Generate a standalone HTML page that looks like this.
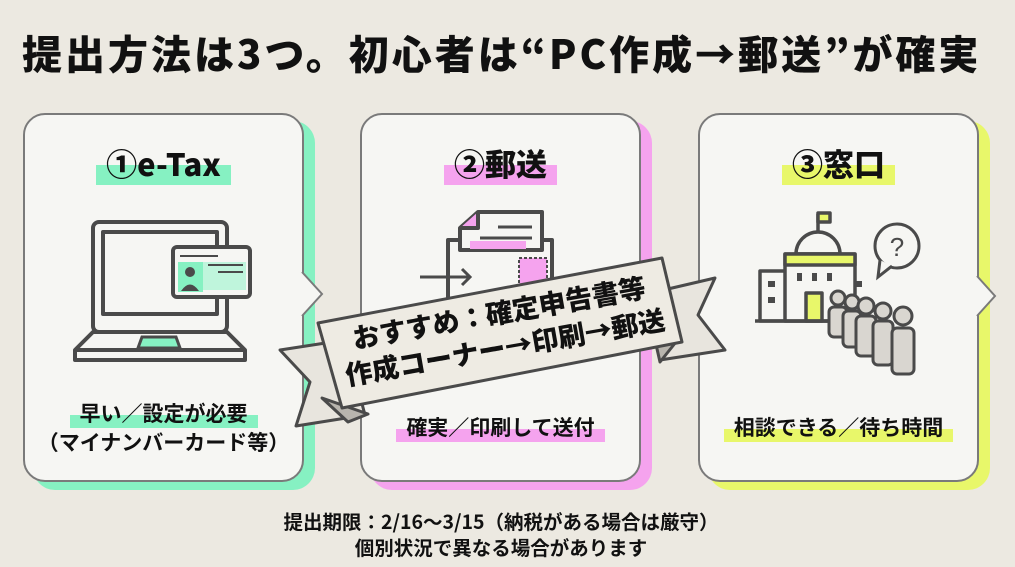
<!DOCTYPE html>
<html><head><meta charset="utf-8"><style>
*{margin:0;padding:0;box-sizing:border-box}
body{width:1015px;height:567px;background:#ece9e1;font-family:"Noto Sans CJK JP",sans-serif;position:relative;overflow:hidden;color:#111}
.title{position:absolute;left:22px;top:25px;font-size:40px;font-weight:900;white-space:nowrap;letter-spacing:3px;line-height:54px}
.sh{position:absolute;border-radius:22px}
.card{position:absolute;background:#f6f6f3;border:2px solid #7a7a7a;border-radius:22px}
.hd{position:absolute;left:0;right:0;text-align:center;font-size:31px;font-weight:900;line-height:40px}
.hd span,.ft span{padding:0 10px;background-size:100% 45%;background-repeat:no-repeat;background-position:0 100%}
.ft{position:absolute;left:0;right:0;text-align:center;font-size:21px;font-weight:700;line-height:29px}
.g{background-image:linear-gradient(#86f1c2,#86f1c2)}
.p{background-image:linear-gradient(#f5a3ee,#f5a3ee)}
.y{background-image:linear-gradient(#e8f76a,#e8f76a)}
.bot{position:absolute;left:0;width:1002px;text-align:center;font-size:19.5px;font-weight:700;line-height:26px;top:508px}
svg{position:absolute}
</style></head><body>
<div class="title">提出方法は3つ。初心者は“PC作成→郵送”が確実</div>

<div class="sh" style="left:33px;top:121px;width:282px;height:369px;background:#86f1c2"></div>
<div class="sh" style="left:370px;top:121px;width:282px;height:369px;background:#f5a3ee"></div>
<div class="sh" style="left:708px;top:121px;width:282px;height:369px;background:#e8f76a"></div>

<div class="card" style="left:23px;top:113px;width:281px;height:369px">
 <div class="hd" style="top:28px"><span class="g">①e-Tax</span></div>
 <div class="ft" style="top:284px"><span class="g">早い／設定が必要</span><br>（マイナンバーカード等）</div>
</div>
<div class="card" style="left:360px;top:113px;width:281px;height:369px">
 <div class="hd" style="top:28px"><span class="p">②郵送</span></div>
 <div class="ft" style="top:298px"><span class="p">確実／印刷して送付</span></div>
</div>
<div class="card" style="left:698px;top:113px;width:281px;height:369px">
 <div class="hd" style="top:28px"><span class="y">③窓口</span></div>
 <div class="ft" style="top:298px"><span class="y">相談できる／待ち時間</span></div>
</div>

<svg width="1015" height="567" viewBox="0 0 1015 567">
 <g fill="#f6f6f3" stroke="#7a7a7a" stroke-width="2">
  <path d="M302 272 L322 294 L302 316"/>
  <path d="M977 276 L995 296 L977 316"/>
 </g>
 <g fill="none" stroke="#4a4a4a" stroke-width="4" stroke-linejoin="round">
  <rect x="93" y="222" width="134" height="110" rx="6"/>
  <rect x="103" y="232" width="114" height="82"/>
  <path d="M93 332 L75 350 L75 360 L245 360 L245 350 L227 332 Z" fill="#f6f6f3"/>
  <line x1="75" y1="350" x2="245" y2="350"/>
 </g>
 <path d="M142 337 L176 337 L180 348 L138 348 Z" fill="#86f1c2" stroke="#4a4a4a" stroke-width="3"/>
 <rect x="173" y="247" width="77" height="50" rx="4" fill="#f6f6f3" stroke="#4a4a4a" stroke-width="4"/>
 <rect x="180" y="262" width="66" height="28" fill="#bff5dc"/>
 <rect x="178" y="262" width="25" height="30" fill="#86f1c2"/>
 <circle cx="190" cy="272" r="5" fill="#4a4a4a"/><path d="M181 291 Q190 278 199 291 Z" fill="#4a4a4a"/>
 <g stroke="#4a4a4a" stroke-width="2"><line x1="180" y1="256" x2="218" y2="256"/><line x1="208" y1="265" x2="243" y2="265"/><line x1="218" y1="272" x2="243" y2="272"/></g>
 <g stroke="#4a4a4a" stroke-width="4" stroke-linejoin="round">
  <rect x="448" y="240" width="104" height="120" fill="#f6f6f3"/>
  <path d="M478 212 L542 212 L542 250 L460 250 L460 228 Z" fill="#f6f6f3"/>
  <path d="M460 228 L478 228 L478 212" fill="#f5a3ee"/>
  <rect x="519" y="258" width="28" height="32" fill="#f5a3ee" stroke-dasharray="3 2" stroke-width="2"/>
 </g>
 <rect x="470" y="241" width="56" height="8" fill="#f5a3ee"/>
 <g stroke="#4a4a4a" stroke-width="3" fill="none"><line x1="498" y1="227" x2="532" y2="227"/><line x1="480" y1="238" x2="532" y2="238"/><path d="M420 277 L470 277 M462 269 L470 277 L462 285"/></g>
 <g stroke="#4a4a4a" stroke-width="3.5" fill="#f6f6f3" stroke-linejoin="round">
  <line x1="818" y1="240" x2="818" y2="214"/>
  <rect x="818" y="213" width="12" height="9" fill="#e8f76a"/>
  <path d="M796 254 A22 22 0 0 1 840 254 Z"/>
  <rect x="760" y="271" width="90" height="50"/>
  <rect x="785" y="254" width="70" height="67"/>
  <rect x="785" y="254" width="70" height="11" fill="#e8f76a"/>
  <rect x="806" y="293" width="16" height="28" fill="#e8f76a"/>
  <line x1="755" y1="321" x2="835" y2="321"/>
 </g>
 <g fill="#4a4a4a"><rect x="797" y="273" width="5" height="8"/><rect x="812" y="273" width="5" height="8"/><rect x="827" y="273" width="5" height="8"/><rect x="768" y="281" width="7" height="6"/><rect x="768" y="297" width="7" height="6"/><rect x="855" y="281" width="7" height="6"/></g>
 <g stroke="#4a4a4a" stroke-width="3" fill="#f6f6f3"><circle cx="897" cy="246" r="22"/><path d="M880 260 L878 277 L892 266"/></g>
 <text x="897" y="256" font-size="26" text-anchor="middle" fill="#4a4a4a" font-family="Liberation Sans">?</text>
 <g stroke="#4a4a4a" stroke-width="3" fill="#d9d6d0">
  <g><circle cx="838" cy="298" r="7"/><rect x="829" y="307" width="18" height="30" rx="5"/></g>
  <g><circle cx="852" cy="302" r="7"/><rect x="843" y="311" width="18" height="36" rx="5"/></g>
  <g><circle cx="866" cy="306" r="8"/><rect x="856" y="316" width="20" height="40" rx="5"/></g>
  <g><circle cx="883" cy="311" r="8"/><rect x="873" y="321" width="20" height="44" rx="5"/></g>
  <g><circle cx="903" cy="316" r="9"/><rect x="892" y="328" width="22" height="46" rx="5"/></g>
 </g>
 <g stroke="#4a4a4a" stroke-width="3" stroke-linejoin="round">
  <path d="M345 340 L280 350 L310 382 L296 426 L365 415 Z" fill="#e8e5de"/>
  <path d="M655 292 L715 278 L698 315 L725 350 L660 360 Z" fill="#e8e5de"/>
  <path d="M322 398 L348 422 L368 414 Z" fill="#b8b5ae"/>
  <path d="M655 340 L660 362 L680 337 Z" fill="#b8b5ae"/>
  <path d="M318 323 L662 258 L682 342 L342 408 Z" fill="#eeebe3"/>
 </g>
 <g font-family="Noto Sans CJK JP, sans-serif" font-weight="900" font-size="27" fill="#111" transform="rotate(-10 500 330)">
  <text x="502" y="323" text-anchor="middle">おすすめ：確定申告書等</text>
  <text x="502" y="358" text-anchor="middle">作成コーナー→印刷→郵送</text>
 </g>
</svg>

<div class="bot">提出期限：2/16〜3/15（納税がある場合は厳守）<br>個別状況で異なる場合があります</div>
</body></html>
